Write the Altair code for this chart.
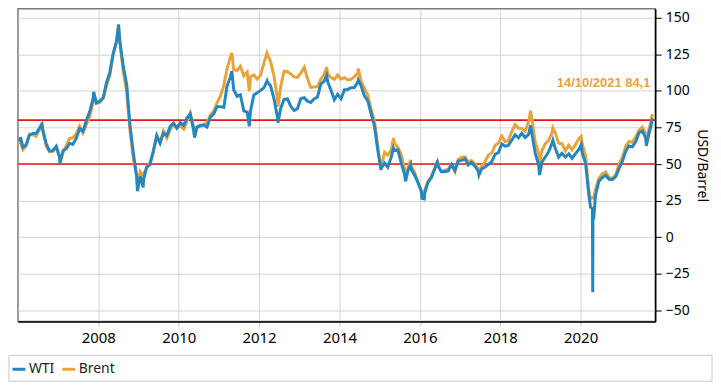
import altair as alt
import pandas as pd

# ---------------- data ----------------
FIRST_MONTH = "2006-01-01"   # monthly points are placed mid-month

WTI_MONTHLY = [
    65.5, 61.6, 62.9, 69.7, 70.9, 71.0, 74.4, 73.0, 63.8, 58.9, 59.1, 62.0,
    54.5, 59.3, 60.4, 64.0, 63.5, 67.5, 74.1, 72.4, 79.9, 85.8, 94.8, 91.7,
    93.0, 95.4, 105.5, 112.6, 125.4, 133.9, 133.4, 116.7, 104.1, 76.6, 57.3, 41.1,
    41.7, 39.1, 47.9, 49.6, 59.0, 69.6, 64.2, 71.1, 69.4, 75.7, 78.0, 74.5,
    78.3, 76.4, 81.2, 84.3, 73.7, 75.3, 76.3, 76.6, 75.2, 81.9, 84.3, 89.2,
    89.2, 88.6, 102.9, 109.5, 100.9, 96.3, 97.3, 86.3, 85.5, 86.3, 97.2, 98.6,
    100.3, 102.2, 106.2, 103.3, 94.7, 82.3, 87.9, 94.1, 94.5, 89.5, 86.5, 87.9,
    94.8, 95.3, 92.9, 92.0, 94.5, 95.8, 104.6, 106.6, 106.3, 100.5, 93.9, 97.6,
    94.6, 100.8, 100.8, 102.1, 102.2, 105.8, 103.6, 96.5, 93.2, 84.4, 75.8, 59.3,
    47.2, 50.6, 47.8, 54.5, 59.3, 59.8, 50.9, 42.9, 45.5, 46.2, 42.4, 37.2,
    31.7, 30.3, 37.5, 40.8, 46.7, 48.8, 44.7, 44.7, 45.2, 49.8, 45.7, 52.0,
    52.5, 53.5, 49.3, 51.1, 48.5, 45.2, 46.6, 48.0, 49.8, 51.6, 56.6, 57.9,
    63.7, 62.2, 62.7, 66.3, 70.0, 67.9, 71.0, 68.1, 70.2, 70.8, 57.0, 49.5,
    51.4, 55.0, 58.2, 63.9, 60.8, 54.7, 57.4, 54.8, 57.0, 54.0, 57.0, 59.9,
    57.5, 50.5, 29.2, 20.0, 28.5, 38.3, 40.7, 42.3, 39.6, 39.4, 41.4, 47.0,
    52.0, 59.0, 62.3, 61.7, 65.2, 71.4, 72.5, 67.7, 71.6,
]

BRENT_MONTHLY = [
    63.6, 59.9, 62.3, 70.4, 70.0, 68.9, 73.7, 73.2, 62.0, 58.3, 58.8, 62.0,
    54.6, 57.8, 62.4, 67.5, 67.9, 70.6, 75.8, 71.2, 77.0, 82.5, 92.1, 91.5,
    92.0, 94.8, 103.3, 110.4, 124.6, 133.5, 133.9, 113.0, 99.0, 72.8, 53.2, 41.6,
    44.9, 43.2, 47.0, 50.9, 57.9, 68.6, 64.9, 72.5, 67.7, 73.2, 77.0, 74.7,
    76.2, 73.8, 78.8, 84.8, 75.9, 74.8, 75.6, 77.1, 78.2, 83.5, 86.1, 91.8,
    96.5, 103.7, 114.6, 123.3, 114.5, 113.9, 116.7, 110.2, 112.8, 109.6, 110.8, 107.9,
    110.7, 119.3, 125.5, 119.8, 110.3, 95.2, 102.6, 113.4, 113.0, 111.5, 109.5, 109.2,
    112.3, 116.1, 108.5, 102.3, 102.6, 102.9, 107.9, 111.3, 111.6, 109.1, 107.8, 110.8,
    108.1, 108.9, 107.5, 107.8, 109.5, 111.9, 106.8, 101.6, 97.1, 87.4, 79.4, 62.3,
    47.8, 58.1, 56.0, 59.5, 64.3, 61.5, 56.6, 46.5, 47.6, 48.4, 44.3, 38.0,
    30.7, 32.2, 38.2, 41.6, 46.7, 48.3, 44.9, 45.8, 46.6, 49.5, 44.7, 53.3,
    54.6, 54.9, 51.6, 52.3, 50.3, 46.4, 48.5, 51.7, 56.2, 57.5, 62.7, 64.4,
    69.1, 65.2, 66.0, 72.1, 76.9, 74.4, 74.3, 72.5, 78.9, 81.0, 64.8, 57.4,
    59.4, 64.0, 66.1, 71.2, 71.3, 64.2, 63.9, 59.0, 62.8, 59.7, 63.2, 67.3,
    63.7, 55.7, 32.0, 27.0, 32.5, 40.3, 43.2, 44.7, 40.9, 40.2, 42.7, 49.9,
    54.8, 62.3, 65.4, 64.8, 68.5, 73.2, 75.2, 70.8, 74.5,
]

# daily highs / lows
EXTRA_DATES = [
    "2006-01-24", "2006-08-07", "2007-01-18", "2007-11-20", "2008-07-03",
    "2008-12-22", "2009-02-12", "2010-05-25", "2011-04-29", "2011-10-04",
    "2012-03-13", "2012-06-21", "2013-09-06", "2014-06-20", "2015-01-13",
    "2015-05-06", "2015-08-24", "2015-10-09", "2016-01-20", "2016-02-11",
    "2016-06-08", "2017-06-21", "2018-10-03", "2018-12-24", "2019-04-24",
    "2020-01-06", "2020-03-31", "2020-04-17", "2020-04-20", "2020-04-22",
    "2020-04-28", "2021-08-20", "2021-10-01", "2021-10-14",
]
EXTRA_WTI = [
    68.3, 77.0, 50.5, 99.2, 145.3,
    31.4, 34.0, 68.0, 113.4, 75.7,
    106.7, 78.2, 110.5, 107.3, 46.0,
    60.9, 38.2, 49.6, 26.6, 26.2,
    51.2, 42.5, 76.4, 42.5, 66.3,
    63.3, 20.5, 18.3, -37.6, 13.8,
    12.3, 62.3, 75.9, 81.3,
]
EXTRA_BRENT = [
    65.0, 78.3, 51.7, 95.5, 144.0,
    35.6, 41.5, 69.5, 125.9, 99.8,
    125.9, 89.2, 116.1, 115.1, 46.6,
    67.8, 42.7, 52.7, 27.9, 30.1,
    52.5, 44.8, 86.3, 50.5, 74.6,
    68.9, 26.0, 28.0, 26.0, 26.5,
    27.0, 65.2, 79.3, 84.1,
]

SERIES = ["WTI", "Brent"]
COLORS = ["#2587bf", "#e9a23c"]
THRESHOLDS = [50, 80]
TICK_YEARS = [2008, 2010, 2012, 2014, 2016, 2018, 2020]
Y_TICKS = [-50, -25, 0, 25, 50, 75, 100, 125, 150]
X_START = "2006-01-01"
X_END = "2021-11-09"
Y_DOMAIN = [-57.5, 156]

# ---------------- build tables ----------------
months = pd.date_range(FIRST_MONTH, periods=len(WTI_MONTHLY), freq="MS") + pd.Timedelta(days=14)
wide = pd.DataFrame({
    "date": list(months) + list(pd.to_datetime(EXTRA_DATES)),
    "WTI": WTI_MONTHLY + EXTRA_WTI,
    "Brent": BRENT_MONTHLY + EXTRA_BRENT,
}).sort_values("date").reset_index(drop=True)
long = wide.melt(id_vars="date", var_name="series", value_name="price")
long["date"] = long["date"].dt.strftime("%Y-%m-%d")

last = wide.iloc[-1]
annot = pd.DataFrame({
    "date": [last["date"].strftime("%Y-%m-%d")],
    "price": [last["Brent"]],
    "label": [f"{last['date'].strftime('%d/%m/%Y')} {str(last['Brent']).replace('.', ',')}"],
})

FONT = "Noto Sans"

def dt(s):
    y, m, d = (int(p) for p in s.split("-"))
    return alt.DateTime(year=y, month=m, date=d)

x_enc = alt.X(
    "date:T",
    scale=alt.Scale(domain=[dt(X_START), dt(X_END)], nice=False),
    axis=alt.Axis(
        values=[alt.DateTime(year=y, month=1, date=1) for y in TICK_YEARS],
        format="%Y", title=None, grid=True, gridColor="#d3d3d3",
        domainColor="#000000", domainWidth=1.5, tickColor="#c8c8c8", tickSize=5,
        labelFont=FONT, labelFontSize=15, labelColor="#000000", labelPadding=4,
    ),
)
y_enc = alt.Y(
    "price:Q",
    scale=alt.Scale(domain=Y_DOMAIN, nice=False, zero=False),
    axis=alt.Axis(
        orient="right", values=Y_TICKS, grid=True, gridColor="#d3d3d3",
        domainColor="#000000", domainWidth=1.5, tickColor="#000000", tickSize=6,
        labelFont=FONT, labelFontSize=14, labelColor="#000000", labelPadding=4,
        title="USD/Barrel", titleFont=FONT, titleFontSize=14, titleFontWeight="normal",
        titleColor="#000000", titleAngle=90, titlePadding=5,
    ),
)
color_enc = alt.Color(
    "series:N",
    scale=alt.Scale(domain=SERIES, range=COLORS),
    legend=alt.Legend(
        title=None, orient="none", legendX=-7, legendY=354, direction="horizontal",
        symbolType="stroke", symbolStrokeWidth=3, symbolSize=169,
        labelFont=FONT, labelFontSize=14, labelColor="#222222", labelOffset=2,
        columnPadding=1, padding=0,
    ),
)

legend_box = alt.Chart(pd.DataFrame({"k": [0]})).mark_rect(
    fill="white", stroke="#c8c8c8", strokeWidth=1
).encode(x=alt.value(-9), x2=alt.value(697), y=alt.value(348), y2=alt.value(374))

rules = alt.Chart(pd.DataFrame({"price": THRESHOLDS})).mark_rule(
    color="#e8141a", strokeWidth=1.6
).encode(y=y_enc)

brent = alt.Chart(long[long["series"] == "Brent"]).mark_line(strokeWidth=3).encode(
    x=x_enc, y=y_enc, color=color_enc
)
wti = alt.Chart(long[long["series"] == "WTI"]).mark_line(strokeWidth=3).encode(
    x=x_enc, y=y_enc, color=color_enc
)

label = alt.Chart(annot).mark_text(
    align="right", baseline="middle", dx=-2, dy=-31, color="#e9a23c",
    font="Liberation Sans", fontWeight="bold", fontSize=13,
).encode(x=x_enc, y=y_enc, text="label:N")

chart = alt.layer(legend_box, rules, brent, wti, label).properties(
    width=640, height=314,
    padding={"left": 0, "top": 0, "right": 0, "bottom": 0},
    background="white",
).configure_view(stroke="#7a7a7a", strokeWidth=1.5)

chart.save("out.html", embed_options={"renderer": "svg", "actions": False})
